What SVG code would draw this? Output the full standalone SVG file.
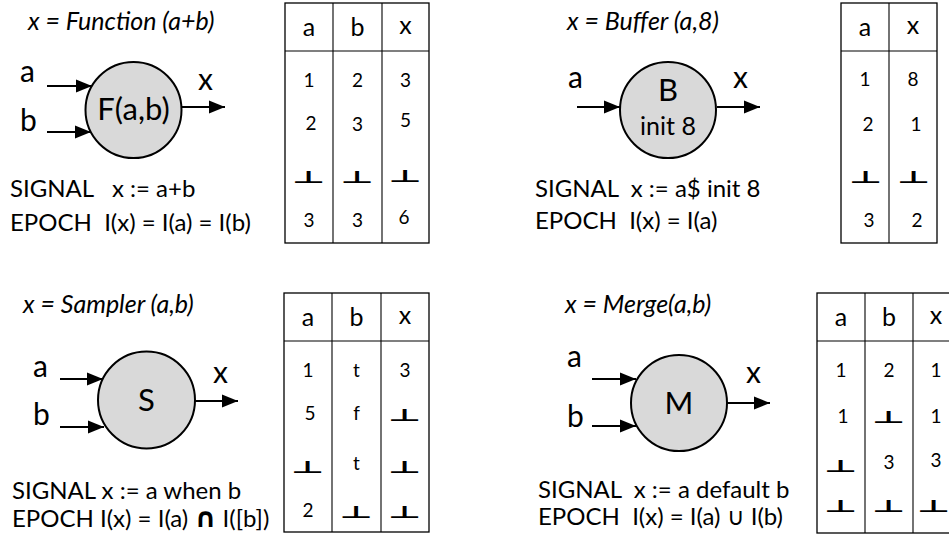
<svg xmlns="http://www.w3.org/2000/svg" width="949" height="535" viewBox="0 0 949 535">
<style>
text{font-family:Lato,"Liberation Sans",sans-serif;fill:#000}
.title{font-size:25px;font-style:italic}
.lbl{font-size:30px}
.node{font-size:31px;text-anchor:middle}
.sub{font-size:25px;text-anchor:middle}
.eq{font-size:24px}
.cap{font-family:"DejaVu Sans",sans-serif;font-weight:bold;font-size:27px}
.hd{font-size:25px;text-anchor:middle}
.v{font-size:19px;text-anchor:middle}
.bot{font-family:"DejaVu Sans",sans-serif;font-weight:bold;font-size:26px;text-anchor:middle}
.circ{fill:#d9d9d9;stroke:#000;stroke-width:2}
.tbl{fill:#fff;stroke:#000;stroke-width:1.3}
.grid{stroke:#000;stroke-width:1.1}
.arr{stroke:#000;stroke-width:2;fill:none;marker-end:url(#ah)}
</style>
<defs>
<marker id="ah" markerUnits="userSpaceOnUse" markerWidth="17" markerHeight="14" refX="16" refY="7" orient="auto">
<path d="M0,0.5 L16,7 L0,13.5 z" fill="#000"/>
</marker>
</defs>
<rect width="949" height="535" fill="#fff"/>

<g id="connectors">
<line class="arr" x1="47" y1="86" x2="92" y2="86"/>
<line class="arr" x1="47" y1="132" x2="91" y2="132"/>
<line class="arr" x1="182" y1="107" x2="225" y2="107"/>
<line class="arr" x1="577" y1="107" x2="620" y2="107"/>
<line class="arr" x1="717" y1="107" x2="760" y2="107"/>
<line class="arr" x1="60" y1="379" x2="103" y2="379"/>
<line class="arr" x1="60" y1="427" x2="104" y2="427"/>
<line class="arr" x1="195" y1="401" x2="238" y2="401"/>
<line class="arr" x1="592" y1="379" x2="636" y2="379"/>
<line class="arr" x1="592" y1="426" x2="636" y2="426"/>
<line class="arr" x1="727" y1="403" x2="770" y2="403"/>
</g>

<g id="function">
<text class="title" x="28" y="30">x = Function (a+b)</text>
<text class="lbl" x="20" y="82">a</text>
<text class="lbl" x="20" y="131">b</text>
<text class="lbl" x="198" y="90">x</text>
<circle class="circ" cx="133.5" cy="110" r="48"/>
<text class="node" x="133.5" y="120">F(a,b)</text>
<text class="eq" x="10" y="197" xml:space="preserve">SIGNAL   x := a+b</text>
<text class="eq" x="10" y="231" xml:space="preserve">EPOCH  I(x) = I(a) = I(b)</text>
</g>

<g id="function-table">
<rect class="tbl" x="285" y="3" width="144" height="240"/>
<line class="grid" x1="333" y1="3" x2="333" y2="243"/>
<line class="grid" x1="382" y1="3" x2="382" y2="243"/>
<line class="grid" x1="285" y1="51" x2="429" y2="51"/>
<text class="hd" x="309" y="36">a</text>
<text class="hd" x="357.5" y="36">b</text>
<text class="hd" x="405.5" y="34">x</text>
<text class="v" x="309" y="87">1</text>
<text class="v" x="357.5" y="87">2</text>
<text class="v" x="405.5" y="87">3</text>
<text class="v" x="311" y="130">2</text>
<text class="v" x="357.5" y="131">3</text>
<text class="v" x="405.5" y="127">5</text>
<text class="bot" transform="translate(309,183) scale(1.4,0.66)">⊥</text>
<text class="bot" transform="translate(357.5,183) scale(1.4,0.66)">⊥</text>
<text class="bot" transform="translate(405.5,182) scale(1.4,0.66)">⊥</text>
<text class="v" x="309" y="227">3</text>
<text class="v" x="357.5" y="227">3</text>
<text class="v" x="404" y="224">6</text>
</g>

<g id="buffer">
<text class="title" x="567" y="30">x = Buffer (a,8)</text>
<text class="lbl" x="568" y="88">a</text>
<text class="lbl" x="733" y="88">x</text>
<circle class="circ" cx="668" cy="110" r="48"/>
<text class="node" x="668" y="101">B</text>
<text class="sub" x="668" y="135">init 8</text>
<text class="eq" x="535" y="197" xml:space="preserve">SIGNAL  x := a$ init 8</text>
<text class="eq" x="535" y="229" xml:space="preserve">EPOCH  I(x) = I(a)</text>
</g>

<g id="buffer-table">
<rect class="tbl" x="841" y="3" width="96" height="240"/>
<line class="grid" x1="889" y1="3" x2="889" y2="243"/>
<line class="grid" x1="841" y1="51" x2="937" y2="51"/>
<text class="hd" x="865" y="36">a</text>
<text class="hd" x="913" y="34">x</text>
<text class="v" x="865" y="86">1</text>
<text class="v" x="913" y="86">8</text>
<text class="v" x="868" y="131">2</text>
<text class="v" x="916" y="131">1</text>
<text class="bot" transform="translate(866,183) scale(1.4,0.66)">⊥</text>
<text class="bot" transform="translate(914,183) scale(1.4,0.66)">⊥</text>
<text class="v" x="869" y="227">3</text>
<text class="v" x="917" y="227">2</text>
</g>

<g id="sampler">
<text class="title" x="23" y="313">x = Sampler (a,b)</text>
<text class="lbl" x="33" y="377">a</text>
<text class="lbl" x="33" y="425">b</text>
<text class="lbl" x="213" y="383">x</text>
<circle class="circ" cx="146.5" cy="400" r="48.5"/>
<text class="node" x="146.5" y="411">S</text>
<text class="eq" x="12" y="499">SIGNAL x := a when b</text>
<text class="eq" x="12" y="527">EPOCH I(x) = I(a) <tspan class="cap">∩</tspan> I([b])</text>
</g>

<g id="sampler-table">
<rect class="tbl" x="284" y="293" width="145" height="239"/>
<line class="grid" x1="332" y1="293" x2="332" y2="532"/>
<line class="grid" x1="381" y1="293" x2="381" y2="532"/>
<line class="grid" x1="284" y1="341" x2="429" y2="341"/>
<text class="hd" x="308" y="326">a</text>
<text class="hd" x="356.5" y="326">b</text>
<text class="hd" x="405" y="324">x</text>
<text class="v" x="308" y="377">1</text>
<text class="v" x="356.5" y="377">t</text>
<text class="v" x="405" y="377">3</text>
<text class="v" x="310" y="420">5</text>
<text class="v" x="356.5" y="420">f</text>
<text class="bot" transform="translate(405,421) scale(1.4,0.66)">⊥</text>
<text class="bot" transform="translate(308,473) scale(1.4,0.66)">⊥</text>
<text class="v" x="356.5" y="470">t</text>
<text class="bot" transform="translate(405,473) scale(1.4,0.66)">⊥</text>
<text class="v" x="308" y="517">2</text>
<text class="bot" transform="translate(356.5,518) scale(1.4,0.66)">⊥</text>
<text class="bot" transform="translate(405,518) scale(1.4,0.66)">⊥</text>
</g>

<g id="merge">
<text class="title" x="565" y="313">x = Merge(a,b)</text>
<text class="lbl" x="567" y="367">a</text>
<text class="lbl" x="567" y="427">b</text>
<text class="lbl" x="746" y="383">x</text>
<circle class="circ" cx="679" cy="403" r="48"/>
<text class="node" x="679" y="414">M</text>
<text class="eq" x="538" y="498" xml:space="preserve">SIGNAL  x := a default b</text>
<text class="eq" x="538" y="525" xml:space="preserve">EPOCH  I(x) = I(a) ∪ I(b)</text>
</g>

<g id="merge-table">
<rect class="tbl" x="817" y="293" width="150" height="240"/>
<line class="grid" x1="865" y1="293" x2="865" y2="533"/>
<line class="grid" x1="913" y1="293" x2="913" y2="533"/>
<line class="grid" x1="817" y1="341" x2="949" y2="341"/>
<text class="hd" x="841" y="326">a</text>
<text class="hd" x="889" y="326">b</text>
<text class="hd" x="936" y="324">x</text>
<text class="v" x="841" y="377">1</text>
<text class="v" x="889" y="377">2</text>
<text class="v" x="936" y="377">1</text>
<text class="v" x="843" y="423">1</text>
<text class="bot" transform="translate(889,423) scale(1.4,0.66)">⊥</text>
<text class="v" x="936" y="423">1</text>
<text class="bot" transform="translate(841,472) scale(1.4,0.66)">⊥</text>
<text class="v" x="889" y="469">3</text>
<text class="v" x="936" y="467">3</text>
<text class="bot" transform="translate(841,512) scale(1.4,0.66)">⊥</text>
<text class="bot" transform="translate(889,512) scale(1.4,0.66)">⊥</text>
<text class="bot" transform="translate(934,512) scale(1.4,0.66)">⊥</text>
</g>
</svg>
